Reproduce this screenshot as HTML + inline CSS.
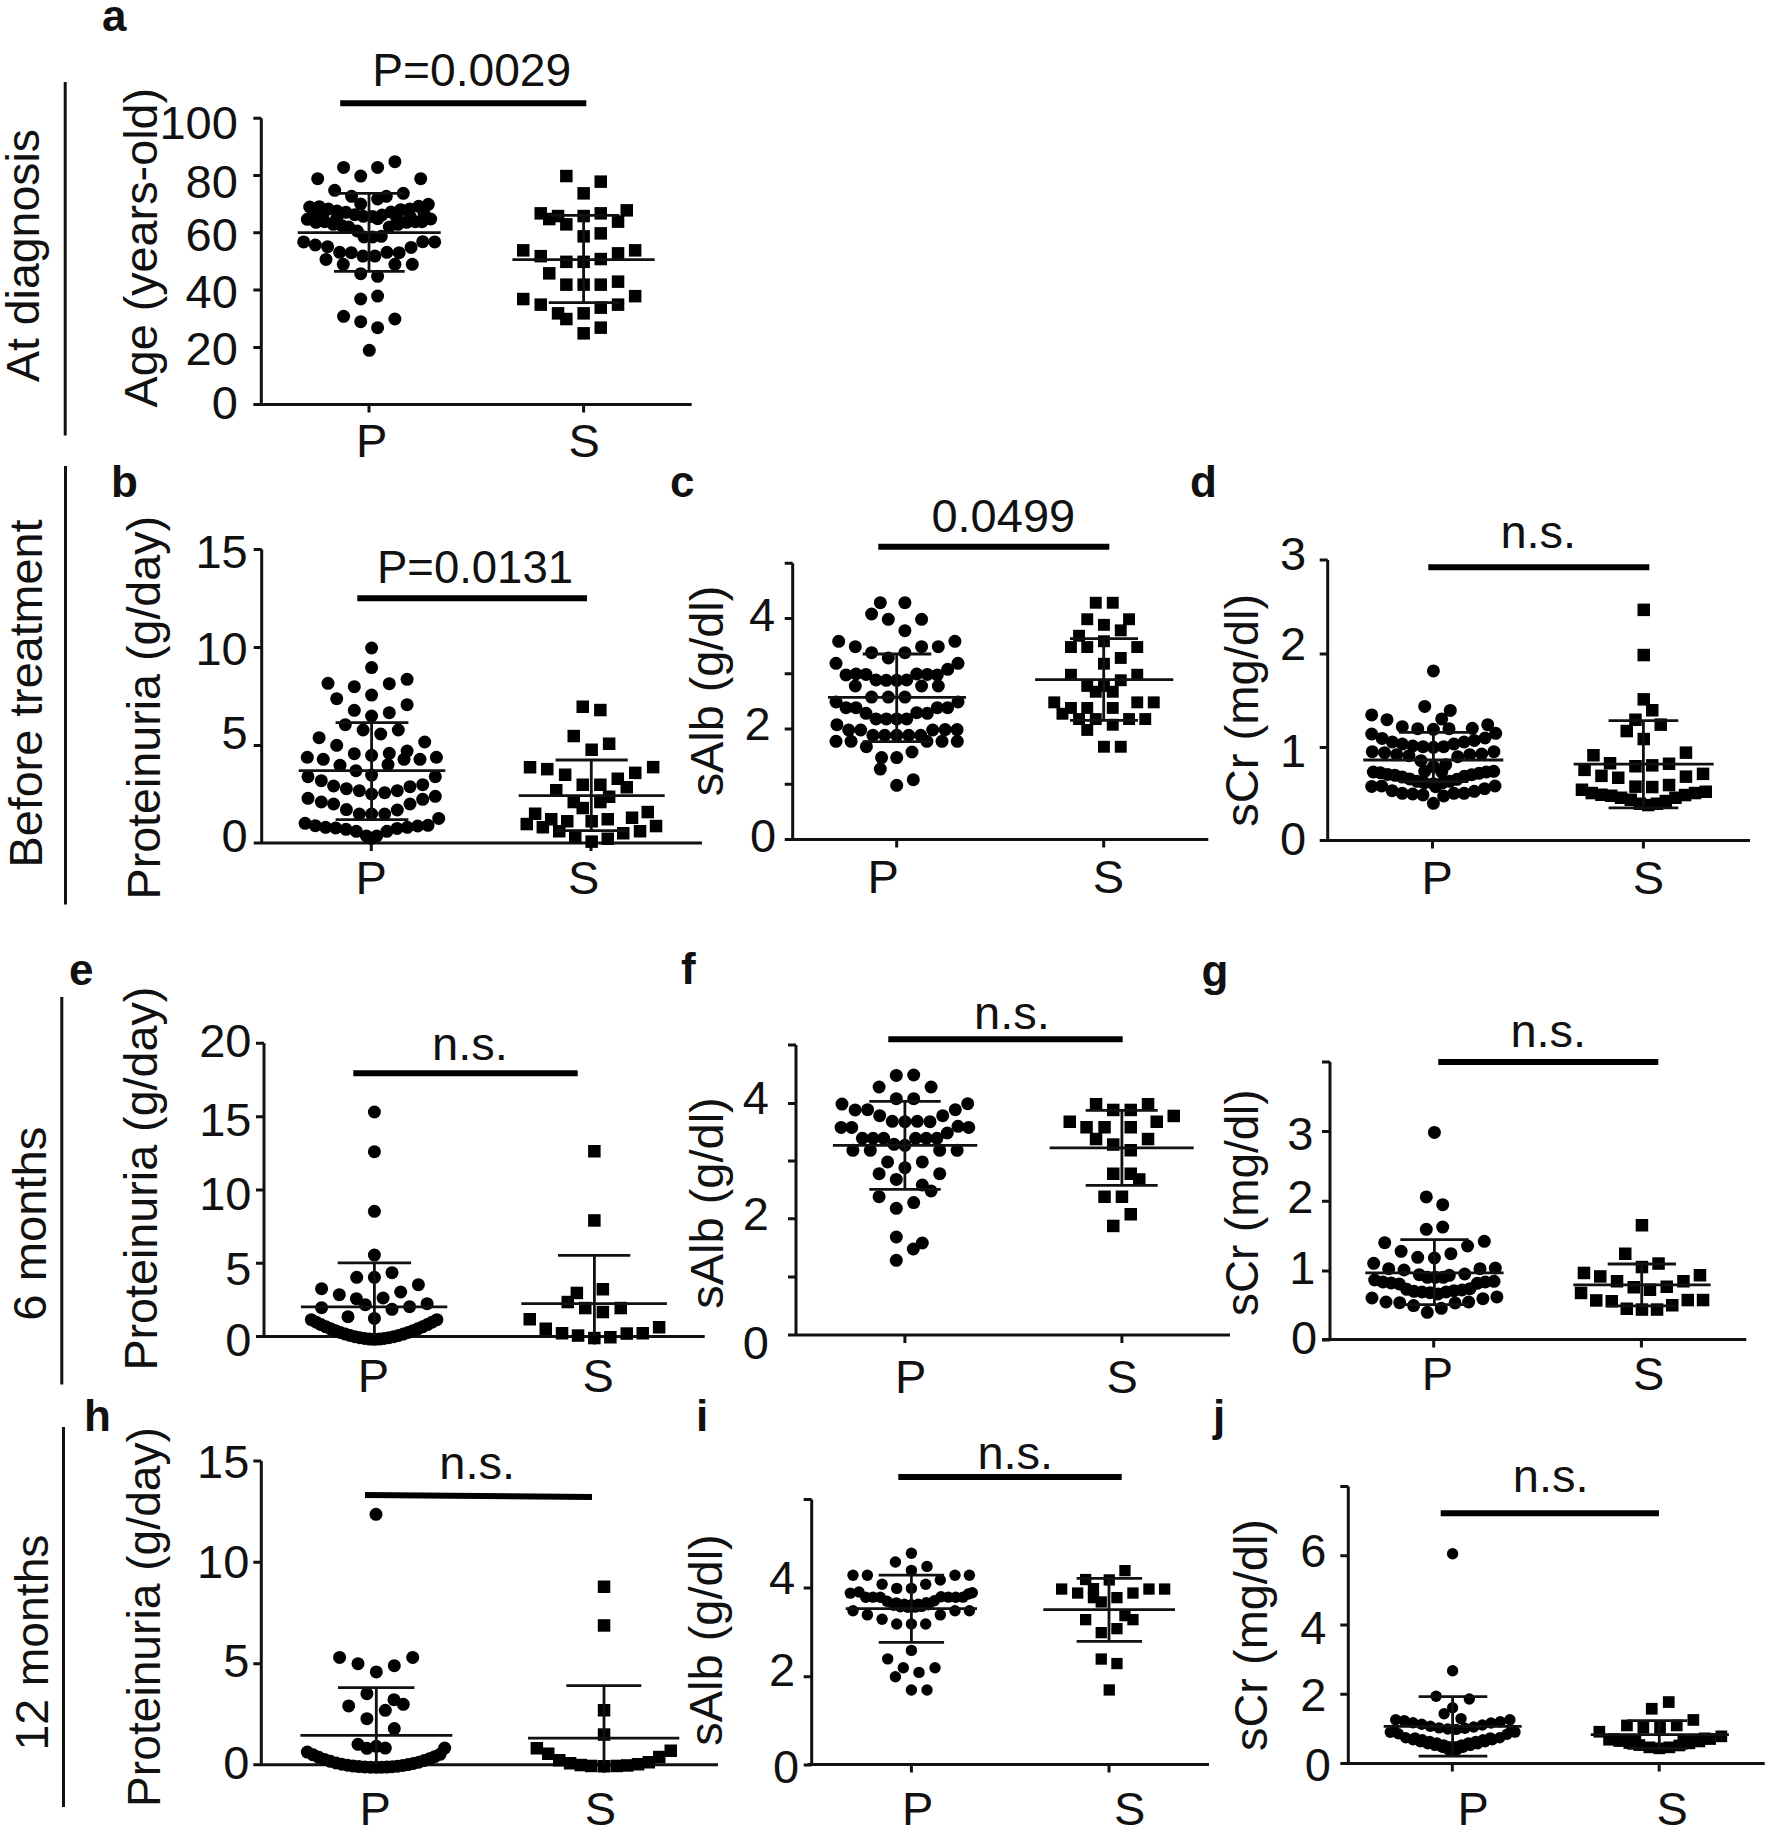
<!DOCTYPE html>
<html lang="en"><head><meta charset="utf-8"><title>Figure</title>
<style>html,body{margin:0;padding:0;background:#fff}svg{display:block}text{font-family:"Liberation Sans",sans-serif;fill:#111}.b{font-weight:bold}.ax{stroke:#111;stroke-width:3;fill:none}.st{stroke:#111;stroke-width:2.8;fill:none}.bar{stroke:#000;fill:none}.d{fill:#000}</style></head><body>
<svg width="1770" height="1830" viewBox="0 0 1770 1830">
<rect width="1770" height="1830" fill="#fff"/>
<line class="ax" style="stroke-width:3" x1="65.2" y1="82" x2="65.2" y2="435.5"/>
<text font-size="47" text-anchor="middle" transform="translate(39.3 255.5) rotate(-90)" textLength="253" lengthAdjust="spacingAndGlyphs">At diagnosis</text>
<line class="ax" style="stroke-width:3" x1="65.5" y1="466" x2="65.5" y2="904.5"/>
<text font-size="47" text-anchor="middle" transform="translate(42.3 693.5) rotate(-90)" textLength="348" lengthAdjust="spacingAndGlyphs">Before treatment</text>
<line class="ax" style="stroke-width:3" x1="61.8" y1="997" x2="61.8" y2="1384.5"/>
<text font-size="47" text-anchor="middle" transform="translate(45.5 1223.7) rotate(-90)" textLength="194" lengthAdjust="spacingAndGlyphs">6 months</text>
<line class="ax" style="stroke-width:3" x1="63.5" y1="1427" x2="63.5" y2="1807"/>
<text font-size="47" text-anchor="middle" transform="translate(48 1642.5) rotate(-90)" textLength="216" lengthAdjust="spacingAndGlyphs">12 months</text>
<g id="panel-a">
<text class="b" font-size="44" x="102" y="30.7">a</text>
<text font-size="47" text-anchor="middle" transform="translate(157 247.7) rotate(-90)" textLength="319.6" lengthAdjust="spacingAndGlyphs">Age (years-old)</text>
<path class="ax" d="M261.3 118.2 V404.5 H691.7 M253.3 404.5 H261.3 M253.3 118.2 H261.3 M253.3 175.5 H261.3 M253.3 232.8 H261.3 M253.3 290.1 H261.3 M253.3 347.4 H261.3 M253.3 404.5 H261.3 M369 404.5 V412.5 M583.6 404.5 V412.5"/>
<text font-size="47" text-anchor="end" x="237.9" y="139.2">100</text>
<text font-size="47" text-anchor="end" x="237.9" y="197.6">80</text>
<text font-size="47" text-anchor="end" x="237.9" y="250.9">60</text>
<text font-size="47" text-anchor="end" x="237.9" y="308.2">40</text>
<text font-size="47" text-anchor="end" x="237.9" y="364.5">20</text>
<text font-size="47" text-anchor="end" x="237.9" y="419.1">0</text>
<text font-size="47" text-anchor="middle" x="371.7" y="457">P</text>
<text font-size="47" text-anchor="middle" x="584.1" y="457">S</text>
<line class="bar" stroke-width="6" x1="340.2" y1="103.2" x2="586.3" y2="103.2"/>
<text font-size="47" text-anchor="middle" x="471.7" y="85.6" textLength="199" lengthAdjust="spacingAndGlyphs">P=0.0029</text>
<g class="d"><circle cx="394.9" cy="161.7" r="6.5"/><circle cx="343.6" cy="167.4" r="6.5"/><circle cx="377.6" cy="167.4" r="6.5"/><circle cx="360.7" cy="176.1" r="6.5"/><circle cx="317.7" cy="178.7" r="6.5"/><circle cx="420.7" cy="178.7" r="6.5"/><circle cx="334.7" cy="190.3" r="6.5"/><circle cx="403.3" cy="193.3" r="6.5"/><circle cx="351.6" cy="196.3" r="6.5"/><circle cx="386.3" cy="196.3" r="6.5"/><circle cx="377.6" cy="199" r="6.5"/><circle cx="360.7" cy="204.1" r="6.5"/><circle cx="309.7" cy="207" r="6.5"/><circle cx="319.3" cy="206.7" r="6.5"/><circle cx="328.3" cy="209" r="6.5"/><circle cx="337.1" cy="211" r="6.5"/><circle cx="346" cy="212.3" r="6.5"/><circle cx="354.7" cy="214.7" r="6.5"/><circle cx="363.3" cy="216.3" r="6.5"/><circle cx="372.7" cy="216.6" r="6.5"/><circle cx="377.7" cy="218.7" r="6.5"/><circle cx="382" cy="215" r="6.5"/><circle cx="391.1" cy="212.1" r="6.5"/><circle cx="400.7" cy="209.7" r="6.5"/><circle cx="409.7" cy="209" r="6.5"/><circle cx="418.7" cy="206.3" r="6.5"/><circle cx="428.3" cy="204.3" r="6.5"/><circle cx="313.3" cy="214.3" r="6.5"/><circle cx="322.7" cy="215" r="6.5"/><circle cx="336.7" cy="218.3" r="6.5"/><circle cx="396.7" cy="217.7" r="6.5"/><circle cx="410" cy="216.3" r="6.5"/><circle cx="424" cy="213.7" r="6.5"/><circle cx="307.3" cy="219.3" r="6.5"/><circle cx="316" cy="222.3" r="6.5"/><circle cx="324.7" cy="221.7" r="6.5"/><circle cx="333.3" cy="224.3" r="6.5"/><circle cx="342" cy="225.7" r="6.5"/><circle cx="348.7" cy="227" r="6.5"/><circle cx="357.3" cy="231" r="6.5"/><circle cx="364" cy="237" r="6.5"/><circle cx="372.7" cy="237" r="6.5"/><circle cx="381.3" cy="236.3" r="6.5"/><circle cx="389.3" cy="227" r="6.5"/><circle cx="398" cy="224.3" r="6.5"/><circle cx="406.7" cy="222.3" r="6.5"/><circle cx="415.3" cy="221.7" r="6.5"/><circle cx="422" cy="221.7" r="6.5"/><circle cx="430.7" cy="219" r="6.5"/><circle cx="303.7" cy="241.9" r="6.5"/><circle cx="315.3" cy="245" r="6.5"/><circle cx="327.6" cy="246.7" r="6.5"/><circle cx="339.7" cy="252.3" r="6.5"/><circle cx="351.3" cy="252.7" r="6.5"/><circle cx="362.9" cy="256.1" r="6.5"/><circle cx="374.9" cy="256.1" r="6.5"/><circle cx="386.9" cy="252.3" r="6.5"/><circle cx="399.1" cy="252.7" r="6.5"/><circle cx="411.1" cy="247.4" r="6.5"/><circle cx="422.7" cy="241.7" r="6.5"/><circle cx="434.7" cy="241.9" r="6.5"/><circle cx="326" cy="259.4" r="6.5"/><circle cx="343.3" cy="264.3" r="6.5"/><circle cx="394.9" cy="264.3" r="6.5"/><circle cx="412.3" cy="264.3" r="6.5"/><circle cx="360.7" cy="273.7" r="6.5"/><circle cx="377.6" cy="276.3" r="6.5"/><circle cx="360.7" cy="299" r="6.5"/><circle cx="377.6" cy="296.1" r="6.5"/><circle cx="343.6" cy="316.3" r="6.5"/><circle cx="360.7" cy="321.7" r="6.5"/><circle cx="377.6" cy="327.7" r="6.5"/><circle cx="394.9" cy="319" r="6.5"/><circle cx="369.3" cy="350.3" r="6.5"/></g>
<g class="d"><rect x="560.1" y="169.8" width="12.5" height="12.5"/><rect x="594.5" y="175.4" width="12.5" height="12.5"/><rect x="577.4" y="187.1" width="12.5" height="12.5"/><rect x="534.5" y="207.1" width="12.5" height="12.5"/><rect x="551.8" y="209.8" width="12.5" height="12.5"/><rect x="543" y="212.8" width="12.5" height="12.5"/><rect x="577.4" y="209.8" width="12.5" height="12.5"/><rect x="594.5" y="207.1" width="12.5" height="12.5"/><rect x="620.5" y="204.1" width="12.5" height="12.5"/><rect x="611.8" y="215.4" width="12.5" height="12.5"/><rect x="560.1" y="218.1" width="12.5" height="12.5"/><rect x="594.5" y="227.1" width="12.5" height="12.5"/><rect x="577.4" y="230.1" width="12.5" height="12.5"/><rect x="517" y="244.1" width="12.5" height="12.5"/><rect x="534.5" y="249.9" width="12.5" height="12.5"/><rect x="611.8" y="247.1" width="12.5" height="12.5"/><rect x="628.9" y="244.1" width="12.5" height="12.5"/><rect x="560.1" y="255.6" width="12.5" height="12.5"/><rect x="577.4" y="255.6" width="12.5" height="12.5"/><rect x="594.5" y="252.8" width="12.5" height="12.5"/><rect x="543" y="267.1" width="12.5" height="12.5"/><rect x="560.1" y="278.4" width="12.5" height="12.5"/><rect x="577.4" y="278.4" width="12.5" height="12.5"/><rect x="594.5" y="278.4" width="12.5" height="12.5"/><rect x="611.8" y="275.4" width="12.5" height="12.5"/><rect x="517" y="292.8" width="12.5" height="12.5"/><rect x="534.5" y="298.4" width="12.5" height="12.5"/><rect x="628.9" y="289.9" width="12.5" height="12.5"/><rect x="611.8" y="298.4" width="12.5" height="12.5"/><rect x="594.5" y="301.4" width="12.5" height="12.5"/><rect x="577.4" y="307.1" width="12.5" height="12.5"/><rect x="551.8" y="307.1" width="12.5" height="12.5"/><rect x="560.1" y="312.8" width="12.5" height="12.5"/><rect x="594.5" y="321.4" width="12.5" height="12.5"/><rect x="577.4" y="327.1" width="12.5" height="12.5"/></g>
<path class="st" d="M297.7 232.7 H440.7 M369 193.3 V271.3 M334 193.3 H404.7 M334 271.3 H404.7"/>
<path class="st" d="M512.4 259.7 H654.7 M583.6 215.4 V302.6 M548.7 215.4 H619.3 M548.7 302.6 H619.3"/>
</g>
<g id="panel-b">
<text class="b" font-size="44" x="111" y="496.7">b</text>
<text font-size="47" text-anchor="middle" transform="translate(160 707.7) rotate(-90)" textLength="383.5" lengthAdjust="spacingAndGlyphs">Proteinuria (g/day)</text>
<path class="ax" d="M261.7 549.5 V843 H702 M253.7 843 H261.7 M253.7 549.5 H261.7 M253.7 647.5 H261.7 M253.7 745.5 H261.7 M253.7 843 H261.7 M371.3 843 V851 M591 843 V851"/>
<text font-size="47" text-anchor="end" x="247.7" y="568.1">15</text>
<text font-size="47" text-anchor="end" x="247.7" y="664.8">10</text>
<text font-size="47" text-anchor="end" x="247.7" y="749.4">5</text>
<text font-size="47" text-anchor="end" x="247.7" y="852.1">0</text>
<text font-size="47" text-anchor="middle" x="371.3" y="894.3">P</text>
<text font-size="47" text-anchor="middle" x="583.8" y="894.3">S</text>
<line class="bar" stroke-width="6" x1="357.3" y1="598.3" x2="587" y2="598.3"/>
<text font-size="47" text-anchor="middle" x="475" y="582.7" textLength="196" lengthAdjust="spacingAndGlyphs">P=0.0131</text>
<g class="d"><circle cx="371.6" cy="648" r="6.5"/><circle cx="371.6" cy="667.6" r="6.5"/><circle cx="328" cy="683.3" r="6.5"/><circle cx="354.3" cy="686.7" r="6.5"/><circle cx="389.3" cy="683.7" r="6.5"/><circle cx="407.1" cy="679.3" r="6.5"/><circle cx="336.7" cy="698.7" r="6.5"/><circle cx="371.6" cy="695.1" r="6.5"/><circle cx="407.1" cy="704.7" r="6.5"/><circle cx="354.3" cy="710.3" r="6.5"/><circle cx="389.3" cy="712.7" r="6.5"/><circle cx="371.6" cy="716" r="6.5"/><circle cx="345.3" cy="724.7" r="6.5"/><circle cx="363.1" cy="730" r="6.5"/><circle cx="380.7" cy="734" r="6.5"/><circle cx="398.3" cy="730" r="6.5"/><circle cx="319.1" cy="737.7" r="6.5"/><circle cx="336.7" cy="745.3" r="6.5"/><circle cx="424.7" cy="742" r="6.5"/><circle cx="307.3" cy="757.3" r="6.5"/><circle cx="323.3" cy="759.3" r="6.5"/><circle cx="354.3" cy="753.7" r="6.5"/><circle cx="371.6" cy="755.3" r="6.5"/><circle cx="389.3" cy="753.3" r="6.5"/><circle cx="407.1" cy="751.1" r="6.5"/><circle cx="404" cy="759.3" r="6.5"/><circle cx="420" cy="759.3" r="6.5"/><circle cx="436.4" cy="757.3" r="6.5"/><circle cx="340" cy="765.3" r="6.5"/><circle cx="388" cy="764.7" r="6.5"/><circle cx="356" cy="770.7" r="6.5"/><circle cx="371.6" cy="775.1" r="6.5"/><circle cx="308" cy="776.7" r="6.5"/><circle cx="321.3" cy="780.7" r="6.5"/><circle cx="333.6" cy="786" r="6.5"/><circle cx="346.4" cy="788.7" r="6.5"/><circle cx="359.3" cy="790.7" r="6.5"/><circle cx="371.6" cy="794" r="6.5"/><circle cx="384.7" cy="792.7" r="6.5"/><circle cx="397.3" cy="790.7" r="6.5"/><circle cx="410" cy="786.7" r="6.5"/><circle cx="422.7" cy="784.7" r="6.5"/><circle cx="435.3" cy="776.7" r="6.5"/><circle cx="308" cy="798.3" r="6.5"/><circle cx="321.3" cy="802" r="6.5"/><circle cx="333.6" cy="804" r="6.5"/><circle cx="346.4" cy="809.6" r="6.5"/><circle cx="359.3" cy="814" r="6.5"/><circle cx="371.6" cy="814" r="6.5"/><circle cx="384.7" cy="814" r="6.5"/><circle cx="397.3" cy="810" r="6.5"/><circle cx="410" cy="804" r="6.5"/><circle cx="422.7" cy="799.3" r="6.5"/><circle cx="435.3" cy="796.3" r="6.5"/><circle cx="305.1" cy="823.3" r="6.5"/><circle cx="315.3" cy="825.7" r="6.5"/><circle cx="325.6" cy="827.3" r="6.5"/><circle cx="335.7" cy="828" r="6.5"/><circle cx="346" cy="829.3" r="6.5"/><circle cx="356.3" cy="831.3" r="6.5"/><circle cx="366.4" cy="836" r="6.5"/><circle cx="376.7" cy="836" r="6.5"/><circle cx="386.9" cy="831.3" r="6.5"/><circle cx="397.1" cy="828.4" r="6.5"/><circle cx="407.3" cy="827.3" r="6.5"/><circle cx="417.7" cy="826" r="6.5"/><circle cx="428" cy="825.3" r="6.5"/><circle cx="438.7" cy="818.4" r="6.5"/><circle cx="371.3" cy="838.3" r="6.5"/></g>
<g class="d"><rect x="576.5" y="700.5" width="12.5" height="12.5"/><rect x="594.1" y="703.8" width="12.5" height="12.5"/><rect x="567.5" y="729.8" width="12.5" height="12.5"/><rect x="602.9" y="737.5" width="12.5" height="12.5"/><rect x="585.4" y="743.5" width="12.5" height="12.5"/><rect x="523.8" y="761" width="12.5" height="12.5"/><rect x="541" y="762.9" width="12.5" height="12.5"/><rect x="558.9" y="768.5" width="12.5" height="12.5"/><rect x="646.9" y="760.9" width="12.5" height="12.5"/><rect x="629" y="766.6" width="12.5" height="12.5"/><rect x="611.5" y="772.5" width="12.5" height="12.5"/><rect x="620.5" y="781" width="12.5" height="12.5"/><rect x="576.5" y="778.5" width="12.5" height="12.5"/><rect x="594.1" y="778.5" width="12.5" height="12.5"/><rect x="550" y="784" width="12.5" height="12.5"/><rect x="602.9" y="790.5" width="12.5" height="12.5"/><rect x="567.5" y="795.8" width="12.5" height="12.5"/><rect x="594.1" y="795.8" width="12.5" height="12.5"/><rect x="576.5" y="801.8" width="12.5" height="12.5"/><rect x="528.9" y="807.5" width="12.5" height="12.5"/><rect x="641.5" y="805.8" width="12.5" height="12.5"/><rect x="545" y="813" width="12.5" height="12.5"/><rect x="561" y="815" width="12.5" height="12.5"/><rect x="585.4" y="815" width="12.5" height="12.5"/><rect x="601.5" y="813" width="12.5" height="12.5"/><rect x="625.8" y="811.5" width="12.5" height="12.5"/><rect x="520.5" y="817.8" width="12.5" height="12.5"/><rect x="536.6" y="821" width="12.5" height="12.5"/><rect x="649.8" y="819.8" width="12.5" height="12.5"/><rect x="553" y="825" width="12.5" height="12.5"/><rect x="633.8" y="825" width="12.5" height="12.5"/><rect x="617" y="827" width="12.5" height="12.5"/><rect x="569" y="829.8" width="12.5" height="12.5"/><rect x="601.5" y="832.5" width="12.5" height="12.5"/><rect x="585.4" y="835.4" width="12.5" height="12.5"/></g>
<path class="st" d="M298.7 770.7 H445.3 M371.6 722.7 V819.6 M335.6 722.7 H408.4 M335.6 819.6 H408.4"/>
<path class="st" d="M518.7 795.6 H664.7 M591.3 760 V830.7 M555.6 760 H627.7 M555.6 830.7 H627.7"/>
</g>
<g id="panel-c">
<text class="b" font-size="44" x="670" y="497.3">c</text>
<text font-size="47" text-anchor="middle" transform="translate(723 691) rotate(-90)" textLength="210.7" lengthAdjust="spacingAndGlyphs">sAlb (g/dl)</text>
<path class="ax" d="M792.7 563.2 V839.5 H1208.3 M784.7 839.5 H792.7 M784.7 563.2 H792.7 M784.7 618.4 H792.7 M784.7 673.7 H792.7 M784.7 729 H792.7 M784.7 784.3 H792.7 M784.7 839.5 H792.7 M896.7 839.5 V847.5 M1103.7 839.5 V847.5"/>
<text font-size="47" text-anchor="end" x="775.1" y="630.8">4</text>
<text font-size="47" text-anchor="end" x="770.6" y="740.2">2</text>
<text font-size="47" text-anchor="end" x="776.1" y="851.6">0</text>
<text font-size="47" text-anchor="middle" x="883.2" y="893">P</text>
<text font-size="47" text-anchor="middle" x="1108.5" y="893">S</text>
<line class="bar" stroke-width="6" x1="878.3" y1="546.7" x2="1109.3" y2="546.7"/>
<text font-size="47" text-anchor="middle" x="1003.3" y="531.7">0.0499</text>
<g class="d"><circle cx="880.3" cy="602.7" r="6.5"/><circle cx="904.9" cy="602.7" r="6.5"/><circle cx="871.6" cy="614" r="6.5"/><circle cx="888.3" cy="619.3" r="6.5"/><circle cx="921.6" cy="619.3" r="6.5"/><circle cx="904.9" cy="630.7" r="6.5"/><circle cx="838.7" cy="641.3" r="6.5"/><circle cx="855.3" cy="646.7" r="6.5"/><circle cx="871.6" cy="652.7" r="6.5"/><circle cx="904.9" cy="652.7" r="6.5"/><circle cx="921.6" cy="646.7" r="6.5"/><circle cx="938.3" cy="646.7" r="6.5"/><circle cx="954.9" cy="641.3" r="6.5"/><circle cx="888.3" cy="658" r="6.5"/><circle cx="836" cy="663.3" r="6.5"/><circle cx="958" cy="663.3" r="6.5"/><circle cx="947.7" cy="669.3" r="6.5"/><circle cx="846" cy="674.9" r="6.5"/><circle cx="856" cy="674" r="6.5"/><circle cx="866" cy="674.4" r="6.5"/><circle cx="876" cy="680" r="6.5"/><circle cx="886.3" cy="680.3" r="6.5"/><circle cx="896.7" cy="680.3" r="6.5"/><circle cx="906.7" cy="680" r="6.5"/><circle cx="916.7" cy="674" r="6.5"/><circle cx="927.3" cy="674.4" r="6.5"/><circle cx="937.3" cy="674.9" r="6.5"/><circle cx="855.3" cy="686" r="6.5"/><circle cx="921.6" cy="686" r="6.5"/><circle cx="938.3" cy="686" r="6.5"/><circle cx="871.6" cy="697.1" r="6.5"/><circle cx="888.3" cy="697.1" r="6.5"/><circle cx="904.9" cy="697.1" r="6.5"/><circle cx="836" cy="702" r="6.5"/><circle cx="958" cy="702" r="6.5"/><circle cx="846" cy="707.7" r="6.5"/><circle cx="856" cy="707.7" r="6.5"/><circle cx="937.3" cy="707.7" r="6.5"/><circle cx="947.7" cy="707.7" r="6.5"/><circle cx="866" cy="713.3" r="6.5"/><circle cx="916.7" cy="712.7" r="6.5"/><circle cx="927.3" cy="713.3" r="6.5"/><circle cx="876" cy="718.9" r="6.5"/><circle cx="886.3" cy="718.9" r="6.5"/><circle cx="896.7" cy="718.9" r="6.5"/><circle cx="906.7" cy="718.9" r="6.5"/><circle cx="836.9" cy="724.7" r="6.5"/><circle cx="848.7" cy="730" r="6.5"/><circle cx="860.7" cy="730" r="6.5"/><circle cx="932.7" cy="730" r="6.5"/><circle cx="945.1" cy="729.6" r="6.5"/><circle cx="957.1" cy="729.6" r="6.5"/><circle cx="872.9" cy="735.3" r="6.5"/><circle cx="884.7" cy="735.3" r="6.5"/><circle cx="896.7" cy="735.3" r="6.5"/><circle cx="908.7" cy="735.3" r="6.5"/><circle cx="920.7" cy="735.3" r="6.5"/><circle cx="836" cy="741.3" r="6.5"/><circle cx="851.1" cy="741.3" r="6.5"/><circle cx="926.9" cy="741.3" r="6.5"/><circle cx="942" cy="741.3" r="6.5"/><circle cx="957.3" cy="741.3" r="6.5"/><circle cx="866.4" cy="746.7" r="6.5"/><circle cx="912" cy="752" r="6.5"/><circle cx="881.6" cy="757.6" r="6.5"/><circle cx="896.7" cy="757.6" r="6.5"/><circle cx="880.3" cy="769.1" r="6.5"/><circle cx="913.3" cy="779.7" r="6.5"/><circle cx="896.7" cy="785.3" r="6.5"/></g>
<g class="d"><rect x="1089.8" y="596.8" width="11.9" height="11.9"/><rect x="1106.8" y="596.8" width="11.9" height="11.9"/><rect x="1081.3" y="613.3" width="11.9" height="11.9"/><rect x="1123.1" y="613.3" width="11.9" height="11.9"/><rect x="1098" y="618.9" width="11.9" height="11.9"/><rect x="1114.8" y="624.4" width="11.9" height="11.9"/><rect x="1073.1" y="629.8" width="11.9" height="11.9"/><rect x="1098" y="635.3" width="11.9" height="11.9"/><rect x="1065" y="641.1" width="11.9" height="11.9"/><rect x="1081.3" y="641.1" width="11.9" height="11.9"/><rect x="1131.3" y="641.1" width="11.9" height="11.9"/><rect x="1114.8" y="652" width="11.9" height="11.9"/><rect x="1098" y="657.8" width="11.9" height="11.9"/><rect x="1065" y="668.8" width="11.9" height="11.9"/><rect x="1131.3" y="668.8" width="11.9" height="11.9"/><rect x="1114.8" y="674.3" width="11.9" height="11.9"/><rect x="1081.3" y="680" width="11.9" height="11.9"/><rect x="1098" y="680" width="11.9" height="11.9"/><rect x="1089.8" y="685.8" width="11.9" height="11.9"/><rect x="1106.8" y="685.8" width="11.9" height="11.9"/><rect x="1048.3" y="696.4" width="11.9" height="11.9"/><rect x="1065" y="702" width="11.9" height="11.9"/><rect x="1081.3" y="702" width="11.9" height="11.9"/><rect x="1106.8" y="702" width="11.9" height="11.9"/><rect x="1131.3" y="696.4" width="11.9" height="11.9"/><rect x="1147.8" y="696.4" width="11.9" height="11.9"/><rect x="1056.5" y="707.8" width="11.9" height="11.9"/><rect x="1073.1" y="713.1" width="11.9" height="11.9"/><rect x="1089.8" y="713.1" width="11.9" height="11.9"/><rect x="1123.1" y="713.1" width="11.9" height="11.9"/><rect x="1139.3" y="713.1" width="11.9" height="11.9"/><rect x="1106.8" y="718.8" width="11.9" height="11.9"/><rect x="1081.3" y="724" width="11.9" height="11.9"/><rect x="1098" y="740.8" width="11.9" height="11.9"/><rect x="1114.8" y="740.8" width="11.9" height="11.9"/></g>
<path class="st" d="M828 697.3 H966 M896.7 654 V741.7 M862.7 654 H931.3 M862.7 741.7 H931.3"/>
<path class="st" d="M1035.1 679.6 H1173.3 M1103.7 638.7 V720.3 M1070 638.7 H1138 M1070 720.3 H1138"/>
</g>
<g id="panel-d">
<text class="b" font-size="44" x="1190" y="497">d</text>
<text font-size="47" text-anchor="middle" transform="translate(1258 710.3) rotate(-90)" textLength="233" lengthAdjust="spacingAndGlyphs">sCr (mg/dl)</text>
<path class="ax" d="M1327.7 560 V840.5 H1750 M1319.7 840.5 H1327.7 M1319.7 560 H1327.7 M1319.7 654 H1327.7 M1319.7 747.5 H1327.7 M1319.7 840.5 H1327.7 M1432.5 840.5 V848.5 M1643.4 840.5 V848.5"/>
<text font-size="47" text-anchor="end" x="1306.2" y="569.6">3</text>
<text font-size="47" text-anchor="end" x="1306.2" y="659.8">2</text>
<text font-size="47" text-anchor="end" x="1306.2" y="767.3">1</text>
<text font-size="47" text-anchor="end" x="1306.2" y="854.6">0</text>
<text font-size="47" text-anchor="middle" x="1437.3" y="893.5">P</text>
<text font-size="47" text-anchor="middle" x="1648.4" y="893.5">S</text>
<line class="bar" stroke-width="6" x1="1428.3" y1="567.3" x2="1649.3" y2="567.3"/>
<text font-size="47" text-anchor="middle" x="1538.3" y="548.3">n.s.</text>
<g class="d"><circle cx="1433.4" cy="670.9" r="6.5"/><circle cx="1424.7" cy="706.4" r="6.5"/><circle cx="1450.3" cy="710.4" r="6.5"/><circle cx="1441.7" cy="718.9" r="6.5"/><circle cx="1371.7" cy="714.9" r="6.5"/><circle cx="1387" cy="719.7" r="6.5"/><circle cx="1402.3" cy="726.7" r="6.5"/><circle cx="1417.7" cy="728.7" r="6.5"/><circle cx="1433.4" cy="729.3" r="6.5"/><circle cx="1449" cy="728.7" r="6.5"/><circle cx="1472.3" cy="728.3" r="6.5"/><circle cx="1487.7" cy="724.7" r="6.5"/><circle cx="1371.7" cy="734" r="6.5"/><circle cx="1495.7" cy="733.3" r="6.5"/><circle cx="1382.1" cy="738.4" r="6.5"/><circle cx="1485" cy="738" r="6.5"/><circle cx="1392.3" cy="742" r="6.5"/><circle cx="1402.3" cy="744" r="6.5"/><circle cx="1412.7" cy="746" r="6.5"/><circle cx="1423" cy="746.7" r="6.5"/><circle cx="1433.4" cy="747.3" r="6.5"/><circle cx="1443.7" cy="746.7" r="6.5"/><circle cx="1453.9" cy="744" r="6.5"/><circle cx="1464.1" cy="742" r="6.5"/><circle cx="1474.3" cy="740.4" r="6.5"/><circle cx="1372.3" cy="751.7" r="6.5"/><circle cx="1384.6" cy="752.7" r="6.5"/><circle cx="1396.7" cy="754.7" r="6.5"/><circle cx="1409" cy="755.7" r="6.5"/><circle cx="1457.7" cy="756.7" r="6.5"/><circle cx="1469.7" cy="754.7" r="6.5"/><circle cx="1481.7" cy="754" r="6.5"/><circle cx="1493.9" cy="751.7" r="6.5"/><circle cx="1421" cy="760.7" r="6.5"/><circle cx="1445.7" cy="764.7" r="6.5"/><circle cx="1433.4" cy="766.7" r="6.5"/><circle cx="1424.7" cy="771.3" r="6.5"/><circle cx="1441.7" cy="772" r="6.5"/><circle cx="1373.3" cy="772" r="6.5"/><circle cx="1380.3" cy="772.7" r="6.5"/><circle cx="1387.7" cy="774.4" r="6.5"/><circle cx="1395" cy="775.3" r="6.5"/><circle cx="1402.3" cy="777.1" r="6.5"/><circle cx="1409.7" cy="778.9" r="6.5"/><circle cx="1417" cy="781.3" r="6.5"/><circle cx="1424.3" cy="782.9" r="6.5"/><circle cx="1433.4" cy="783.7" r="6.5"/><circle cx="1442.3" cy="782.9" r="6.5"/><circle cx="1449.7" cy="781.3" r="6.5"/><circle cx="1457" cy="779.3" r="6.5"/><circle cx="1464.3" cy="776.3" r="6.5"/><circle cx="1471.7" cy="774.7" r="6.5"/><circle cx="1479" cy="773.3" r="6.5"/><circle cx="1486.3" cy="772" r="6.5"/><circle cx="1493.7" cy="771.3" r="6.5"/><circle cx="1435.7" cy="786.7" r="6.5"/><circle cx="1371.7" cy="786.4" r="6.5"/><circle cx="1381.7" cy="786" r="6.5"/><circle cx="1392.1" cy="790.7" r="6.5"/><circle cx="1402.3" cy="793.3" r="6.5"/><circle cx="1412.7" cy="794" r="6.5"/><circle cx="1423" cy="794.9" r="6.5"/><circle cx="1433.4" cy="803.3" r="6.5"/><circle cx="1443.7" cy="796" r="6.5"/><circle cx="1453.9" cy="793.3" r="6.5"/><circle cx="1464.1" cy="793.3" r="6.5"/><circle cx="1474.3" cy="791.3" r="6.5"/><circle cx="1484.6" cy="788.7" r="6.5"/><circle cx="1495" cy="786" r="6.5"/></g>
<g class="d"><rect x="1637.5" y="603.6" width="12.5" height="12.5"/><rect x="1637.5" y="648.8" width="12.5" height="12.5"/><rect x="1637.5" y="693.1" width="12.5" height="12.5"/><rect x="1646" y="704" width="12.5" height="12.5"/><rect x="1629.2" y="713.5" width="12.5" height="12.5"/><rect x="1654.5" y="718.4" width="12.5" height="12.5"/><rect x="1620.5" y="724.8" width="12.5" height="12.5"/><rect x="1637.5" y="732.8" width="12.5" height="12.5"/><rect x="1587.2" y="749" width="12.5" height="12.5"/><rect x="1679.7" y="746.4" width="12.5" height="12.5"/><rect x="1603.8" y="757" width="12.5" height="12.5"/><rect x="1629.2" y="760" width="12.5" height="12.5"/><rect x="1646" y="759.1" width="12.5" height="12.5"/><rect x="1662.8" y="757.5" width="12.5" height="12.5"/><rect x="1578.3" y="763.6" width="12.5" height="12.5"/><rect x="1595.2" y="769.6" width="12.5" height="12.5"/><rect x="1612" y="771.5" width="12.5" height="12.5"/><rect x="1679.7" y="770.4" width="12.5" height="12.5"/><rect x="1696.8" y="767.6" width="12.5" height="12.5"/><rect x="1629.2" y="780.4" width="12.5" height="12.5"/><rect x="1646" y="780.8" width="12.5" height="12.5"/><rect x="1662.8" y="778.8" width="12.5" height="12.5"/><rect x="1575.7" y="783.5" width="12.5" height="12.5"/><rect x="1585.5" y="786.8" width="12.5" height="12.5"/><rect x="1595.2" y="788.5" width="12.5" height="12.5"/><rect x="1605" y="789.5" width="12.5" height="12.5"/><rect x="1614.8" y="791.5" width="12.5" height="12.5"/><rect x="1624.5" y="793.5" width="12.5" height="12.5"/><rect x="1633.5" y="797.5" width="12.5" height="12.5"/><rect x="1642" y="798.8" width="12.5" height="12.5"/><rect x="1650.8" y="797.5" width="12.5" height="12.5"/><rect x="1659.5" y="794.8" width="12.5" height="12.5"/><rect x="1669.2" y="791.5" width="12.5" height="12.5"/><rect x="1678.8" y="788.8" width="12.5" height="12.5"/><rect x="1688.8" y="786.8" width="12.5" height="12.5"/><rect x="1699.5" y="785.5" width="12.5" height="12.5"/></g>
<path class="st" d="M1363.3 760 H1503.3 M1433.4 732.4 V781.5 M1399 732.4 H1468.3 M1399 781.5 H1468.3"/>
<path class="st" d="M1573.7 764.1 H1713.7 M1643.4 720.6 V807.9 M1608.6 720.6 H1678.3 M1608.6 807.9 H1678.3"/>
</g>
<g id="panel-e">
<text class="b" font-size="44" x="69" y="985">e</text>
<text font-size="47" text-anchor="middle" transform="translate(156.7 1178.6) rotate(-90)" textLength="384" lengthAdjust="spacingAndGlyphs">Proteinuria (g/day)</text>
<path class="ax" d="M264 1043.3 V1336.5 H704.7 M256 1336.5 H264 M256 1043.3 H264 M256 1116.7 H264 M256 1190 H264 M256 1263.3 H264 M256 1336.5 H264 M374.4 1336.5 V1344.5 M594.4 1336.5 V1344.5"/>
<text font-size="47" text-anchor="end" x="251.5" y="1056.9">20</text>
<text font-size="47" text-anchor="end" x="251.5" y="1135.8">15</text>
<text font-size="47" text-anchor="end" x="251.5" y="1209.6">10</text>
<text font-size="47" text-anchor="end" x="251.5" y="1285.2">5</text>
<text font-size="47" text-anchor="end" x="251.5" y="1355.5">0</text>
<text font-size="47" text-anchor="middle" x="373.4" y="1392">P</text>
<text font-size="47" text-anchor="middle" x="598.1" y="1392">S</text>
<line class="bar" stroke-width="6" x1="353.3" y1="1073.3" x2="577.7" y2="1073.3"/>
<text font-size="47" text-anchor="middle" x="470" y="1060">n.s.</text>
<g class="d"><circle cx="374.4" cy="1112" r="6.5"/><circle cx="374.4" cy="1151.7" r="6.5"/><circle cx="374.4" cy="1211.3" r="6.5"/><circle cx="374.4" cy="1255.1" r="6.5"/><circle cx="356.7" cy="1277.3" r="6.5"/><circle cx="374.4" cy="1277.3" r="6.5"/><circle cx="392" cy="1272.7" r="6.5"/><circle cx="321.6" cy="1288.7" r="6.5"/><circle cx="418.4" cy="1284.7" r="6.5"/><circle cx="339.3" cy="1294.7" r="6.5"/><circle cx="400.7" cy="1292" r="6.5"/><circle cx="356.4" cy="1298.7" r="6.5"/><circle cx="383.1" cy="1298" r="6.5"/><circle cx="365.3" cy="1304.7" r="6.5"/><circle cx="321.6" cy="1307.7" r="6.5"/><circle cx="392" cy="1309.3" r="6.5"/><circle cx="409.6" cy="1306.7" r="6.5"/><circle cx="427.1" cy="1303.7" r="6.5"/><circle cx="348" cy="1316.7" r="6.5"/><circle cx="374.4" cy="1318.4" r="6.5"/><circle cx="311.3" cy="1319.7" r="6.5"/><circle cx="316.2" cy="1322.2" r="6.5"/><circle cx="321" cy="1324.6" r="6.5"/><circle cx="325.9" cy="1326.8" r="6.5"/><circle cx="330.7" cy="1328.8" r="6.5"/><circle cx="335.6" cy="1330.7" r="6.5"/><circle cx="340.4" cy="1332.5" r="6.5"/><circle cx="345.3" cy="1334.1" r="6.5"/><circle cx="350.1" cy="1335.5" r="6.5"/><circle cx="355" cy="1336.7" r="6.5"/><circle cx="359.8" cy="1337.7" r="6.5"/><circle cx="364.7" cy="1338.5" r="6.5"/><circle cx="369.5" cy="1339.1" r="6.5"/><circle cx="374.4" cy="1339.3" r="6.5"/><circle cx="379.2" cy="1339.1" r="6.5"/><circle cx="384" cy="1338.5" r="6.5"/><circle cx="388.8" cy="1337.7" r="6.5"/><circle cx="393.6" cy="1336.7" r="6.5"/><circle cx="398.5" cy="1335.5" r="6.5"/><circle cx="403.3" cy="1334.1" r="6.5"/><circle cx="408.1" cy="1332.5" r="6.5"/><circle cx="412.9" cy="1330.7" r="6.5"/><circle cx="417.7" cy="1328.8" r="6.5"/><circle cx="422.5" cy="1326.8" r="6.5"/><circle cx="427.3" cy="1324.6" r="6.5"/><circle cx="432.1" cy="1322.2" r="6.5"/><circle cx="436.9" cy="1319.7" r="6.5"/></g>
<g class="d"><rect x="588.1" y="1145" width="12.5" height="12.5"/><rect x="588.1" y="1214.2" width="12.5" height="12.5"/><rect x="596.6" y="1283" width="12.5" height="12.5"/><rect x="570.6" y="1286.7" width="12.5" height="12.5"/><rect x="561.5" y="1295.8" width="12.5" height="12.5"/><rect x="579" y="1301.8" width="12.5" height="12.5"/><rect x="596.6" y="1305.8" width="12.5" height="12.5"/><rect x="614.5" y="1301.8" width="12.5" height="12.5"/><rect x="523.5" y="1313" width="12.5" height="12.5"/><rect x="652.9" y="1321" width="12.5" height="12.5"/><rect x="539.5" y="1322.5" width="12.5" height="12.5"/><rect x="555.8" y="1327" width="12.5" height="12.5"/><rect x="571.8" y="1329.3" width="12.5" height="12.5"/><rect x="588.1" y="1331.8" width="12.5" height="12.5"/><rect x="604.1" y="1331" width="12.5" height="12.5"/><rect x="620.5" y="1327.3" width="12.5" height="12.5"/><rect x="636.5" y="1327" width="12.5" height="12.5"/></g>
<path class="st" d="M300.9 1306.9 H447.3 M374.4 1262.9 V1336 M337.7 1262.9 H411.1"/>
<path class="st" d="M521.3 1303.7 H666.9 M594.4 1255.3 V1336 M558 1255.3 H630.3"/>
</g>
<g id="panel-f">
<text class="b" font-size="44" x="681" y="984">f</text>
<text font-size="47" text-anchor="middle" transform="translate(723.2 1203) rotate(-90)" textLength="211.5" lengthAdjust="spacingAndGlyphs">sAlb (g/dl)</text>
<path class="ax" d="M796 1045 V1335 H1230 M793 1335 H796 M788 1045 H796 M788 1103.4 H796 M788 1161 H796 M788 1218.7 H796 M788 1277 H796 M788 1335 H796 M904.9 1335 V1343 M1121.9 1335 V1343"/>
<text font-size="47" text-anchor="end" x="768.8" y="1114.4">4</text>
<text font-size="47" text-anchor="end" x="768.8" y="1229.7">2</text>
<text font-size="47" text-anchor="end" x="768.8" y="1359">0</text>
<text font-size="47" text-anchor="middle" x="910.6" y="1393">P</text>
<text font-size="47" text-anchor="middle" x="1122.2" y="1393">S</text>
<line class="bar" stroke-width="6" x1="888.3" y1="1039.3" x2="1122.7" y2="1039.3"/>
<text font-size="47" text-anchor="middle" x="1012" y="1028.8">n.s.</text>
<g class="d"><circle cx="896.3" cy="1075.4" r="6.5"/><circle cx="913.7" cy="1075" r="6.5"/><circle cx="879.1" cy="1087" r="6.5"/><circle cx="931.1" cy="1087" r="6.5"/><circle cx="896.3" cy="1098.7" r="6.5"/><circle cx="913.7" cy="1098.7" r="6.5"/><circle cx="842" cy="1104.1" r="6.5"/><circle cx="967.7" cy="1103.7" r="6.5"/><circle cx="855.1" cy="1109.9" r="6.5"/><circle cx="867.6" cy="1109.7" r="6.5"/><circle cx="955.3" cy="1109.7" r="6.5"/><circle cx="879.7" cy="1115.7" r="6.5"/><circle cx="942.7" cy="1115.7" r="6.5"/><circle cx="892.3" cy="1121.3" r="6.5"/><circle cx="904.9" cy="1121.7" r="6.5"/><circle cx="917.3" cy="1121.3" r="6.5"/><circle cx="930" cy="1121.7" r="6.5"/><circle cx="841.1" cy="1127.4" r="6.5"/><circle cx="851.7" cy="1127.4" r="6.5"/><circle cx="958" cy="1126.3" r="6.5"/><circle cx="968.7" cy="1127.4" r="6.5"/><circle cx="947.3" cy="1133" r="6.5"/><circle cx="862.4" cy="1138.3" r="6.5"/><circle cx="873.1" cy="1138.3" r="6.5"/><circle cx="883.7" cy="1138.3" r="6.5"/><circle cx="915.6" cy="1138.3" r="6.5"/><circle cx="926.3" cy="1138.3" r="6.5"/><circle cx="936.9" cy="1138.3" r="6.5"/><circle cx="894" cy="1144.3" r="6.5"/><circle cx="904.9" cy="1145.3" r="6.5"/><circle cx="852.9" cy="1150.3" r="6.5"/><circle cx="870.3" cy="1150.3" r="6.5"/><circle cx="939.7" cy="1150.3" r="6.5"/><circle cx="957.1" cy="1150.3" r="6.5"/><circle cx="887.6" cy="1161.9" r="6.5"/><circle cx="922.3" cy="1161.9" r="6.5"/><circle cx="904.9" cy="1167.7" r="6.5"/><circle cx="879.1" cy="1173.7" r="6.5"/><circle cx="939.7" cy="1173.7" r="6.5"/><circle cx="896.3" cy="1179.4" r="6.5"/><circle cx="922.3" cy="1185" r="6.5"/><circle cx="931.1" cy="1191" r="6.5"/><circle cx="879.1" cy="1196.7" r="6.5"/><circle cx="913.7" cy="1202.6" r="6.5"/><circle cx="896.3" cy="1208.3" r="6.5"/><circle cx="896.3" cy="1237" r="6.5"/><circle cx="922.3" cy="1243" r="6.5"/><circle cx="913.3" cy="1249" r="6.5"/><circle cx="896.3" cy="1260.3" r="6.5"/></g>
<g class="d"><rect x="1089.8" y="1098" width="12.5" height="12.5"/><rect x="1141.8" y="1098" width="12.5" height="12.5"/><rect x="1107" y="1103.7" width="12.5" height="12.5"/><rect x="1124.5" y="1103.7" width="12.5" height="12.5"/><rect x="1063.5" y="1115.5" width="12.5" height="12.5"/><rect x="1167.5" y="1109.7" width="12.5" height="12.5"/><rect x="1150.5" y="1115.5" width="12.5" height="12.5"/><rect x="1080.3" y="1121" width="12.5" height="12.5"/><rect x="1098.3" y="1121" width="12.5" height="12.5"/><rect x="1124.5" y="1121" width="12.5" height="12.5"/><rect x="1089.8" y="1132.8" width="12.5" height="12.5"/><rect x="1141.8" y="1132.8" width="12.5" height="12.5"/><rect x="1107" y="1138.3" width="12.5" height="12.5"/><rect x="1124.5" y="1144" width="12.5" height="12.5"/><rect x="1107" y="1167.5" width="12.5" height="12.5"/><rect x="1124.5" y="1167.5" width="12.5" height="12.5"/><rect x="1133" y="1173.2" width="12.5" height="12.5"/><rect x="1098.3" y="1190.5" width="12.5" height="12.5"/><rect x="1115.7" y="1190.5" width="12.5" height="12.5"/><rect x="1124.5" y="1208" width="12.5" height="12.5"/><rect x="1107" y="1219.7" width="12.5" height="12.5"/></g>
<path class="st" d="M832.9 1145.4 H977.3 M904.9 1101.4 V1189.4 M869.3 1101.4 H940.7 M869.3 1189.4 H940.7"/>
<path class="st" d="M1049.7 1147.9 H1193.7 M1121.9 1110.3 V1185.3 M1085.7 1110.3 H1157.7 M1085.7 1185.3 H1157.7"/>
</g>
<g id="panel-g">
<text class="b" font-size="44" x="1201.5" y="985.5">g</text>
<text font-size="47" text-anchor="middle" transform="translate(1258.3 1202.7) rotate(-90)" textLength="226.5" lengthAdjust="spacingAndGlyphs">sCr (mg/dl)</text>
<path class="ax" d="M1330 1062 V1339.4 H1746.3 M1322 1339.4 H1330 M1322 1062 H1330 M1322 1131.6 H1330 M1322 1201.3 H1330 M1322 1270.9 H1330 M1322 1340 H1330 M1433.7 1339.4 V1347.4 M1641.4 1339.4 V1347.4"/>
<text font-size="47" text-anchor="end" x="1313.4" y="1149.7">3</text>
<text font-size="47" text-anchor="end" x="1313.4" y="1213.4">2</text>
<text font-size="47" text-anchor="end" x="1315.4" y="1283.8">1</text>
<text font-size="47" text-anchor="end" x="1317.1" y="1354.3">0</text>
<text font-size="47" text-anchor="middle" x="1437.4" y="1389.6">P</text>
<text font-size="47" text-anchor="middle" x="1648.6" y="1389.6">S</text>
<line class="bar" stroke-width="6" x1="1438.3" y1="1062" x2="1658.3" y2="1062"/>
<text font-size="47" text-anchor="middle" x="1548.3" y="1047.3">n.s.</text>
<g class="d"><circle cx="1434.4" cy="1132.4" r="6.5"/><circle cx="1426.3" cy="1196.9" r="6.5"/><circle cx="1442.7" cy="1204.7" r="6.5"/><circle cx="1426.3" cy="1229.3" r="6.5"/><circle cx="1442.7" cy="1227.1" r="6.5"/><circle cx="1384.7" cy="1242.7" r="6.5"/><circle cx="1484.3" cy="1241.3" r="6.5"/><circle cx="1467.6" cy="1246" r="6.5"/><circle cx="1401.1" cy="1251.3" r="6.5"/><circle cx="1450.9" cy="1253.7" r="6.5"/><circle cx="1417.7" cy="1257.3" r="6.5"/><circle cx="1434.4" cy="1258" r="6.5"/><circle cx="1373.7" cy="1263.3" r="6.5"/><circle cx="1388.7" cy="1268.7" r="6.5"/><circle cx="1404" cy="1270" r="6.5"/><circle cx="1480" cy="1268.7" r="6.5"/><circle cx="1495.3" cy="1268" r="6.5"/><circle cx="1464.7" cy="1274" r="6.5"/><circle cx="1419.3" cy="1274.7" r="6.5"/><circle cx="1427.3" cy="1277.3" r="6.5"/><circle cx="1435.3" cy="1277.3" r="6.5"/><circle cx="1443.3" cy="1277.3" r="6.5"/><circle cx="1449.3" cy="1275.3" r="6.5"/><circle cx="1374.7" cy="1280" r="6.5"/><circle cx="1382.9" cy="1282" r="6.5"/><circle cx="1391.1" cy="1282.9" r="6.5"/><circle cx="1399.3" cy="1284" r="6.5"/><circle cx="1406.7" cy="1289.3" r="6.5"/><circle cx="1414" cy="1291.3" r="6.5"/><circle cx="1422" cy="1292" r="6.5"/><circle cx="1430" cy="1292.7" r="6.5"/><circle cx="1438" cy="1294" r="6.5"/><circle cx="1446" cy="1292" r="6.5"/><circle cx="1454" cy="1290.7" r="6.5"/><circle cx="1462" cy="1290" r="6.5"/><circle cx="1470" cy="1288.7" r="6.5"/><circle cx="1477.3" cy="1283.3" r="6.5"/><circle cx="1485.3" cy="1282" r="6.5"/><circle cx="1494" cy="1281.3" r="6.5"/><circle cx="1372" cy="1298" r="6.5"/><circle cx="1386" cy="1302" r="6.5"/><circle cx="1399.7" cy="1302.7" r="6.5"/><circle cx="1413.6" cy="1305.6" r="6.5"/><circle cx="1427.3" cy="1312.3" r="6.5"/><circle cx="1441.3" cy="1308.3" r="6.5"/><circle cx="1455.1" cy="1302.9" r="6.5"/><circle cx="1468.7" cy="1302" r="6.5"/><circle cx="1482.9" cy="1298.7" r="6.5"/><circle cx="1496.9" cy="1296.9" r="6.5"/></g>
<g class="d"><rect x="1635.7" y="1219" width="12.5" height="12.5"/><rect x="1619" y="1247.5" width="12.5" height="12.5"/><rect x="1652.3" y="1257.3" width="12.5" height="12.5"/><rect x="1635.7" y="1260.8" width="12.5" height="12.5"/><rect x="1577.7" y="1266.7" width="12.5" height="12.5"/><rect x="1594" y="1270.2" width="12.5" height="12.5"/><rect x="1693.7" y="1269" width="12.5" height="12.5"/><rect x="1610.8" y="1275" width="12.5" height="12.5"/><rect x="1677.2" y="1275" width="12.5" height="12.5"/><rect x="1627.5" y="1281" width="12.5" height="12.5"/><rect x="1660.5" y="1280.5" width="12.5" height="12.5"/><rect x="1643.7" y="1283.5" width="12.5" height="12.5"/><rect x="1574.8" y="1286.7" width="12.5" height="12.5"/><rect x="1590" y="1294.2" width="12.5" height="12.5"/><rect x="1605.5" y="1295" width="12.5" height="12.5"/><rect x="1681.5" y="1293.8" width="12.5" height="12.5"/><rect x="1696.8" y="1293.8" width="12.5" height="12.5"/><rect x="1666" y="1299" width="12.5" height="12.5"/><rect x="1620.5" y="1302.5" width="12.5" height="12.5"/><rect x="1635.7" y="1303.3" width="12.5" height="12.5"/><rect x="1650.8" y="1303.3" width="12.5" height="12.5"/></g>
<path class="st" d="M1365.3 1272.9 H1503.6 M1434.4 1239.6 V1304.7 M1400.3 1239.6 H1468.7 M1400.3 1304.7 H1468.7"/>
<path class="st" d="M1573.3 1284.9 H1710.6 M1641.7 1264 V1305.9 M1607.7 1264 H1675.9 M1607.7 1305.9 H1675.9"/>
</g>
<g id="panel-h">
<text class="b" font-size="44" x="84" y="1430.7">h</text>
<text font-size="47" text-anchor="middle" transform="translate(160 1617) rotate(-90)" textLength="380" lengthAdjust="spacingAndGlyphs">Proteinuria (g/day)</text>
<path class="ax" d="M261.3 1460.9 V1764.8 H718 M253.3 1764.8 H261.3 M253.3 1460.9 H261.3 M253.3 1562.3 H261.3 M253.3 1663.7 H261.3 M253.3 1764.8 H261.3 M376.3 1764.8 V1772.8 M604 1764.8 V1772.8"/>
<text font-size="47" text-anchor="end" x="249.4" y="1478.3">15</text>
<text font-size="47" text-anchor="end" x="249.4" y="1578">10</text>
<text font-size="47" text-anchor="end" x="249.4" y="1676.8">5</text>
<text font-size="47" text-anchor="end" x="249.4" y="1778.6">0</text>
<text font-size="47" text-anchor="middle" x="375.3" y="1825">P</text>
<text font-size="47" text-anchor="middle" x="600.5" y="1825">S</text>
<line class="bar" stroke-width="6" x1="365" y1="1495" x2="592" y2="1497"/>
<text font-size="47" text-anchor="middle" x="477.2" y="1478.8">n.s.</text>
<g class="d"><circle cx="376" cy="1514.3" r="6.5"/><circle cx="339.6" cy="1657.4" r="6.5"/><circle cx="412.7" cy="1657.4" r="6.5"/><circle cx="358" cy="1663.7" r="6.5"/><circle cx="394.3" cy="1665.7" r="6.5"/><circle cx="376.3" cy="1671.9" r="6.5"/><circle cx="366.9" cy="1693.7" r="6.5"/><circle cx="394" cy="1699.7" r="6.5"/><circle cx="403.3" cy="1704.3" r="6.5"/><circle cx="348.7" cy="1705.9" r="6.5"/><circle cx="385.3" cy="1710.3" r="6.5"/><circle cx="366.9" cy="1718.7" r="6.5"/><circle cx="394.3" cy="1728.6" r="6.5"/><circle cx="358" cy="1744.3" r="6.5"/><circle cx="366.9" cy="1748.3" r="6.5"/><circle cx="376.3" cy="1746.3" r="6.5"/><circle cx="385.3" cy="1748.1" r="6.5"/><circle cx="307.3" cy="1752.1" r="6.5"/><circle cx="313.1" cy="1754.8" r="6.5"/><circle cx="318.8" cy="1757.3" r="6.5"/><circle cx="324.6" cy="1759.4" r="6.5"/><circle cx="330.3" cy="1761.3" r="6.5"/><circle cx="336.1" cy="1762.9" r="6.5"/><circle cx="341.8" cy="1764.2" r="6.5"/><circle cx="347.5" cy="1765.2" r="6.5"/><circle cx="353.3" cy="1766.1" r="6.5"/><circle cx="359" cy="1766.6" r="6.5"/><circle cx="364.8" cy="1767" r="6.5"/><circle cx="370.5" cy="1767.2" r="6.5"/><circle cx="376.3" cy="1767.3" r="6.5"/><circle cx="381.6" cy="1767.2" r="6.5"/><circle cx="386.9" cy="1767.1" r="6.5"/><circle cx="392.2" cy="1766.7" r="6.5"/><circle cx="397.5" cy="1766.2" r="6.5"/><circle cx="402.8" cy="1765.5" r="6.5"/><circle cx="408.1" cy="1764.6" r="6.5"/><circle cx="413.4" cy="1763.5" r="6.5"/><circle cx="418.8" cy="1762.2" r="6.5"/><circle cx="424.1" cy="1760.6" r="6.5"/><circle cx="429.4" cy="1758.8" r="6.5"/><circle cx="434.7" cy="1756.7" r="6.5"/><circle cx="440" cy="1754.3" r="6.5"/><circle cx="444.7" cy="1748.1" r="6.5"/></g>
<g class="d"><rect x="597.8" y="1580.5" width="12.5" height="12.5"/><rect x="597.8" y="1619.2" width="12.5" height="12.5"/><rect x="597.8" y="1704" width="12.5" height="12.5"/><rect x="597.8" y="1728.3" width="12.5" height="12.5"/><rect x="530.6" y="1742" width="12.5" height="12.5"/><rect x="664.5" y="1744.5" width="12.5" height="12.5"/><rect x="542" y="1747.5" width="12.5" height="12.5"/><rect x="653" y="1750.8" width="12.5" height="12.5"/><rect x="553" y="1754" width="12.5" height="12.5"/><rect x="563.8" y="1757" width="12.5" height="12.5"/><rect x="574.5" y="1758.8" width="12.5" height="12.5"/><rect x="585" y="1759.7" width="12.5" height="12.5"/><rect x="597.8" y="1760" width="12.5" height="12.5"/><rect x="610.5" y="1759.7" width="12.5" height="12.5"/><rect x="621" y="1759.2" width="12.5" height="12.5"/><rect x="631.8" y="1758" width="12.5" height="12.5"/><rect x="642.5" y="1756" width="12.5" height="12.5"/></g>
<path class="st" d="M300.4 1735.3 H452.3 M376.3 1687.7 V1764 M338 1687.7 H414.4"/>
<path class="st" d="M528 1738.1 H679.3 M604 1685.7 V1764 M566.3 1685.7 H641.3"/>
</g>
<g id="panel-i">
<text class="b" font-size="44" x="696" y="1430.7">i</text>
<text font-size="47" text-anchor="middle" transform="translate(722 1640) rotate(-90)" textLength="211.5" lengthAdjust="spacingAndGlyphs">sAlb (g/dl)</text>
<path class="ax" d="M811.7 1499.5 V1764.6 H1209 M807.7 1764.6 H811.7 M803.7 1499.5 H811.7 M803.7 1588 H811.7 M803.7 1676.7 H811.7 M803.7 1765 H811.7 M911.4 1764.6 V1772.6 M1109 1764.6 V1772.6"/>
<text font-size="47" text-anchor="end" x="795.2" y="1593.7">4</text>
<text font-size="47" text-anchor="end" x="795.2" y="1686">2</text>
<text font-size="47" text-anchor="end" x="799.2" y="1782.5">0</text>
<text font-size="47" text-anchor="middle" x="917.6" y="1825.3">P</text>
<text font-size="47" text-anchor="middle" x="1129.7" y="1825.3">S</text>
<line class="bar" stroke-width="6" x1="898.3" y1="1477" x2="1121.7" y2="1477"/>
<text font-size="47" text-anchor="middle" x="1015.3" y="1468.8">n.s.</text>
<g class="d"><circle cx="911.4" cy="1553.3" r="5.7"/><circle cx="895.4" cy="1562" r="5.7"/><circle cx="927" cy="1566.4" r="5.7"/><circle cx="911.4" cy="1570.4" r="5.7"/><circle cx="853" cy="1575.3" r="5.7"/><circle cx="867.4" cy="1575.3" r="5.7"/><circle cx="955" cy="1575.3" r="5.7"/><circle cx="969.4" cy="1575.3" r="5.7"/><circle cx="940.3" cy="1580" r="5.7"/><circle cx="882.1" cy="1584.3" r="5.7"/><circle cx="925.7" cy="1584.3" r="5.7"/><circle cx="896.7" cy="1588.4" r="5.7"/><circle cx="911.4" cy="1588.4" r="5.7"/><circle cx="850.3" cy="1593.1" r="5.7"/><circle cx="859" cy="1592" r="5.7"/><circle cx="865.7" cy="1597.3" r="5.7"/><circle cx="873" cy="1597.1" r="5.7"/><circle cx="880.3" cy="1597.3" r="5.7"/><circle cx="887" cy="1601.3" r="5.7"/><circle cx="893.7" cy="1605.3" r="5.7"/><circle cx="900.3" cy="1606.7" r="5.7"/><circle cx="907.7" cy="1607.3" r="5.7"/><circle cx="915" cy="1607.1" r="5.7"/><circle cx="921.7" cy="1606.4" r="5.7"/><circle cx="928.3" cy="1604.7" r="5.7"/><circle cx="934.3" cy="1600.7" r="5.7"/><circle cx="941" cy="1596.7" r="5.7"/><circle cx="948.3" cy="1597.1" r="5.7"/><circle cx="955.7" cy="1597.3" r="5.7"/><circle cx="963" cy="1597.1" r="5.7"/><circle cx="968.3" cy="1594" r="5.7"/><circle cx="972.3" cy="1592.7" r="5.7"/><circle cx="896.3" cy="1602.9" r="5.7"/><circle cx="904.3" cy="1604.3" r="5.7"/><circle cx="911.4" cy="1604.8" r="5.7"/><circle cx="918.3" cy="1604.3" r="5.7"/><circle cx="926.3" cy="1602.7" r="5.7"/><circle cx="853" cy="1610.7" r="5.7"/><circle cx="867.4" cy="1614.9" r="5.7"/><circle cx="882.1" cy="1619.3" r="5.7"/><circle cx="896.7" cy="1624" r="5.7"/><circle cx="911.4" cy="1624" r="5.7"/><circle cx="925.7" cy="1624" r="5.7"/><circle cx="940.3" cy="1614.9" r="5.7"/><circle cx="955" cy="1610.7" r="5.7"/><circle cx="969.4" cy="1610.7" r="5.7"/><circle cx="911.4" cy="1650.4" r="5.7"/><circle cx="887.7" cy="1658.9" r="5.7"/><circle cx="903.3" cy="1667.7" r="5.7"/><circle cx="935" cy="1667.7" r="5.7"/><circle cx="919" cy="1672.4" r="5.7"/><circle cx="895.4" cy="1676.7" r="5.7"/><circle cx="911.4" cy="1690" r="5.7"/><circle cx="927" cy="1690" r="5.7"/></g>
<g class="d"><rect x="1119.3" y="1565" width="11.3" height="11.3"/><rect x="1080" y="1573.9" width="11.3" height="11.3"/><rect x="1103.6" y="1574.3" width="11.3" height="11.3"/><rect x="1056" y="1583.4" width="11.3" height="11.3"/><rect x="1143.3" y="1583.4" width="11.3" height="11.3"/><rect x="1159" y="1583.4" width="11.3" height="11.3"/><rect x="1087.8" y="1583" width="11.3" height="11.3"/><rect x="1072" y="1587.4" width="11.3" height="11.3"/><rect x="1127.3" y="1587.4" width="11.3" height="11.3"/><rect x="1087.8" y="1592" width="11.3" height="11.3"/><rect x="1111.3" y="1592" width="11.3" height="11.3"/><rect x="1095.6" y="1596.3" width="11.3" height="11.3"/><rect x="1119.3" y="1610" width="11.3" height="11.3"/><rect x="1080" y="1614" width="11.3" height="11.3"/><rect x="1127.3" y="1614" width="11.3" height="11.3"/><rect x="1111.3" y="1623" width="11.3" height="11.3"/><rect x="1095.6" y="1627" width="11.3" height="11.3"/><rect x="1095.6" y="1653.4" width="11.3" height="11.3"/><rect x="1111.3" y="1657.9" width="11.3" height="11.3"/><rect x="1103.6" y="1684.3" width="11.3" height="11.3"/></g>
<path class="st" d="M845.7 1608.7 H977 M911.4 1575.1 V1642.3 M878.7 1575.1 H944.1 M878.7 1642.3 H944.1"/>
<path class="st" d="M1043.3 1609.6 H1175 M1109 1578.3 V1641.3 M1076.6 1578.3 H1142.1 M1076.6 1641.3 H1142.1"/>
</g>
<g id="panel-j">
<text class="b" font-size="44" x="1213" y="1430.7">j</text>
<text font-size="47" text-anchor="middle" transform="translate(1267.3 1635) rotate(-90)" textLength="232" lengthAdjust="spacingAndGlyphs">sCr (mg/dl)</text>
<path class="ax" d="M1348.3 1486.4 V1763.5 H1764.7 M1340.3 1763.5 H1348.3 M1340.3 1486.4 H1348.3 M1340.3 1555.7 H1348.3 M1340.3 1625 H1348.3 M1340.3 1694.3 H1348.3 M1340.3 1763.5 H1348.3 M1452.3 1763.5 V1771.5 M1659.2 1763.5 V1771.5"/>
<text font-size="47" text-anchor="end" x="1326.3" y="1566.9">6</text>
<text font-size="47" text-anchor="end" x="1326.3" y="1644.3">4</text>
<text font-size="47" text-anchor="end" x="1326.3" y="1710.7">2</text>
<text font-size="47" text-anchor="end" x="1330.8" y="1781">0</text>
<text font-size="47" text-anchor="middle" x="1473.3" y="1824.7">P</text>
<text font-size="47" text-anchor="middle" x="1672.2" y="1824.7">S</text>
<line class="bar" stroke-width="6" x1="1440.7" y1="1513.3" x2="1659" y2="1513.3"/>
<text font-size="47" text-anchor="middle" x="1550.7" y="1491.7">n.s.</text>
<g class="d"><circle cx="1452.6" cy="1553.7" r="5.7"/><circle cx="1452.6" cy="1670.7" r="5.7"/><circle cx="1436.1" cy="1696.3" r="5.7"/><circle cx="1469.3" cy="1699" r="5.7"/><circle cx="1452.6" cy="1707.7" r="5.7"/><circle cx="1444.1" cy="1713.7" r="5.7"/><circle cx="1461" cy="1718.6" r="5.7"/><circle cx="1395.7" cy="1719.7" r="5.7"/><circle cx="1404.3" cy="1720.6" r="5.7"/><circle cx="1413" cy="1722.7" r="5.7"/><circle cx="1421.7" cy="1724.3" r="5.7"/><circle cx="1430.3" cy="1726.3" r="5.7"/><circle cx="1439" cy="1727.9" r="5.7"/><circle cx="1447.7" cy="1729" r="5.7"/><circle cx="1456.3" cy="1729.4" r="5.7"/><circle cx="1465" cy="1728.3" r="5.7"/><circle cx="1473.7" cy="1727" r="5.7"/><circle cx="1482.3" cy="1725" r="5.7"/><circle cx="1491" cy="1723" r="5.7"/><circle cx="1500.3" cy="1721.7" r="5.7"/><circle cx="1509.9" cy="1719.7" r="5.7"/><circle cx="1390.3" cy="1732.3" r="5.7"/><circle cx="1398.3" cy="1733.7" r="5.7"/><circle cx="1405.7" cy="1737.7" r="5.7"/><circle cx="1413" cy="1739.7" r="5.7"/><circle cx="1420.3" cy="1741.7" r="5.7"/><circle cx="1427.7" cy="1743.7" r="5.7"/><circle cx="1435" cy="1745.4" r="5.7"/><circle cx="1442.3" cy="1747.3" r="5.7"/><circle cx="1448.3" cy="1749.7" r="5.7"/><circle cx="1452.6" cy="1751.3" r="5.7"/><circle cx="1457" cy="1749.7" r="5.7"/><circle cx="1463" cy="1747.3" r="5.7"/><circle cx="1470.3" cy="1745.4" r="5.7"/><circle cx="1477.7" cy="1743.7" r="5.7"/><circle cx="1485" cy="1741.7" r="5.7"/><circle cx="1492.3" cy="1739.7" r="5.7"/><circle cx="1499.7" cy="1737.7" r="5.7"/><circle cx="1507" cy="1734.3" r="5.7"/><circle cx="1515" cy="1732.1" r="5.7"/><circle cx="1393.7" cy="1729.9" r="5.7"/><circle cx="1511.7" cy="1729.9" r="5.7"/><circle cx="1415" cy="1737.9" r="5.7"/><circle cx="1422.3" cy="1739.8" r="5.7"/><circle cx="1429.7" cy="1741.4" r="5.7"/><circle cx="1437" cy="1743" r="5.7"/><circle cx="1443.7" cy="1744.9" r="5.7"/><circle cx="1449" cy="1746.7" r="5.7"/><circle cx="1456.3" cy="1746.7" r="5.7"/><circle cx="1461.7" cy="1744.9" r="5.7"/><circle cx="1468.3" cy="1743" r="5.7"/><circle cx="1475.7" cy="1741.4" r="5.7"/><circle cx="1483" cy="1739.8" r="5.7"/><circle cx="1490.3" cy="1737.9" r="5.7"/></g>
<g class="d"><rect x="1662.9" y="1696.2" width="11.7" height="11.7"/><rect x="1645.9" y="1702.9" width="11.7" height="11.7"/><rect x="1687.5" y="1714.1" width="11.7" height="11.7"/><rect x="1621.1" y="1719.6" width="11.7" height="11.7"/><rect x="1637.5" y="1721.9" width="11.7" height="11.7"/><rect x="1654.2" y="1721.9" width="11.7" height="11.7"/><rect x="1670.9" y="1719.6" width="11.7" height="11.7"/><rect x="1593.5" y="1725.9" width="11.7" height="11.7"/><rect x="1715.5" y="1730.5" width="11.7" height="11.7"/><rect x="1603.2" y="1733.9" width="11.7" height="11.7"/><rect x="1613.5" y="1735.2" width="11.7" height="11.7"/><rect x="1623.5" y="1737.2" width="11.7" height="11.7"/><rect x="1633.5" y="1739.2" width="11.7" height="11.7"/><rect x="1643.5" y="1741.5" width="11.7" height="11.7"/><rect x="1653.5" y="1742.5" width="11.7" height="11.7"/><rect x="1663.5" y="1741.5" width="11.7" height="11.7"/><rect x="1673.5" y="1739.6" width="11.7" height="11.7"/><rect x="1683.5" y="1737.5" width="11.7" height="11.7"/><rect x="1693.5" y="1735.6" width="11.7" height="11.7"/><rect x="1704.2" y="1733.2" width="11.7" height="11.7"/><rect x="1608.2" y="1733.2" width="11.7" height="11.7"/><rect x="1618.9" y="1733.9" width="11.7" height="11.7"/><rect x="1629.5" y="1735.2" width="11.7" height="11.7"/><rect x="1677.5" y="1735.2" width="11.7" height="11.7"/><rect x="1688.2" y="1733.9" width="11.7" height="11.7"/><rect x="1698.9" y="1732.5" width="11.7" height="11.7"/></g>
<path class="st" d="M1383.7 1726.3 H1521.7 M1452.6 1696.6 V1756.1 M1418.6 1696.6 H1487.3 M1418.6 1756.1 H1487.3"/>
<path class="st" d="M1590.7 1734.6 H1728.9 M1659.3 1720.7 V1748.3 M1627.3 1720.7 H1687.3 M1627.3 1748.3 H1687.3"/>
</g>
</svg></body></html>
